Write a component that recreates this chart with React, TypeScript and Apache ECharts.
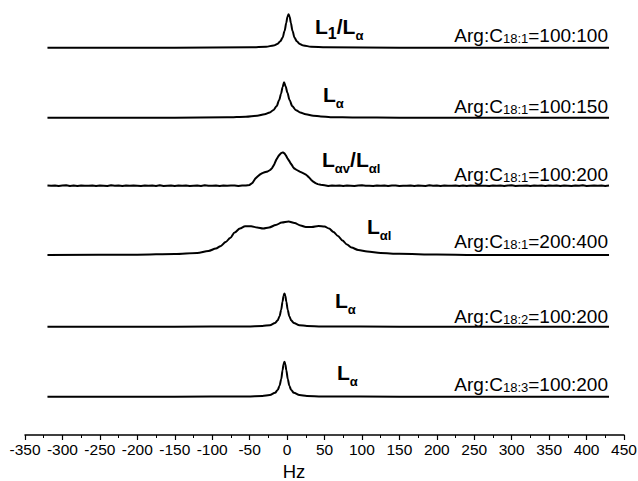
import React, { useEffect, useRef } from "react";
import * as echarts from "echarts";

// x axis
const xMin = -350;
const xMax = 450;
const xInterval = 50;

// vertical offset of each spectrum baseline (stacked plot units)
const baselineOffsets = [387.3, 317.3, 249.3, 180, 108.3, 38.3];

// spectra: [Hz, intensity above own baseline]
const spectrum1: [number, number][] = [[-320,0],[-150,0],[-48,0.4],[-28,1],[-18,2.2],[-13,3.6],[-9,6.4],[-6,10],[-3.3,16.7],[-1,25],[0.5,31],[2,33.5],[3.5,31],[5,25],[7.3,16.7],[10,10],[13,6.4],[17,3.6],[22,2.2],[32,1],[52,0.4],[150,0],[430,0]];
const spectrum2: [number, number][] = [[-320,0],[-150,0],[-80,0.4],[-55,1],[-40,2],[-30,3.5],[-23,5.3],[-18,7.8],[-14,11.5],[-10.5,17.7],[-8,24],[-6,30.5],[-4,35.4],[-2,31.5],[0.5,25],[3.3,17.7],[7,11.5],[12,7.5],[17.5,5.3],[25,3.5],[35,2],[45,1.2],[58,0.5],[90,0.2],[150,0],[430,0]];
// spectrum 3: noisy baseline sampled every 5 Hz, plus the central band
const spectrum3NoiseStep = 5;
const spectrum3NoiseLeftStart = -320;
const spectrum3NoiseLeft = [0.2,-0.1,0.3,-0.3,0.1,0.35,-0.2,0.1,-0.35,0.25,0.0,-0.15,0.3,-0.3,0.2,0.05,-0.25,0.35,-0.05,0.15,-0.3,0.25,-0.15,0.2,0.0,-0.35,0.3,-0.05,0.15,-0.25,0.35,-0.2,0.05,0.25,-0.3,0.15,-0.15,0.3,-0.2,0.0,0.2,-0.25,0.35,-0.15,0.05,0.25,-0.3,0.2,-0.05,0.15,0.3,-0.2,0.25,0.3];
const spectrum3Band: [number, number][] = [[-50,0.8],[-46,3],[-42.6,7],[-39,9.5],[-36,11.3],[-33,12.6],[-30,13.4],[-26,14.2],[-22.6,15.7],[-20,17.6],[-17,21.5],[-14.6,25.7],[-12,29],[-10,31],[-8,32.6],[-5.6,33.3],[-3.5,32.3],[-1.5,30.2],[0.5,27.5],[3,24.6],[5,22],[6.4,20.7],[8,18.6],[10,17],[13,15.7],[17,14],[20,13],[22,12.3],[24.5,11.4],[27,10],[29,8.5],[32,6],[35,4],[38,2.6],[41,1.6],[45,0.9],[50,0.4]];
const spectrum3NoiseRightStart = 55;
const spectrum3NoiseRight = [-0.2,0.25,-0.05,0.3,-0.25,0.15,0.0,-0.3,0.2,0.35,-0.15,0.05,-0.25,0.3,-0.05,0.2,-0.35,0.15,0.25,-0.2,0.05,-0.15,0.3,-0.25,0.2,0.0,-0.2,0.35,-0.05,0.15,-0.3,0.25,-0.15,0.05,0.3,-0.2,0.15,-0.35,0.2,0.0,0.25,-0.15,0.05,-0.25,0.3,-0.05,0.2,-0.2,0.15,0.35,-0.25,0.05,-0.15,0.25,-0.3,0.2,0.0,0.15,-0.2,0.3,-0.05,0.25,-0.25,0.15,0.05,-0.3,0.2,-0.15,0.35,-0.2,0.05,0.25,-0.05,0.15,-0.25,0.2];
const spectrum4: [number, number][] = [[-320,0],[-200,0.3],[-150,1],[-120,2],[-105,4],[-95,6.5],[-89,8.8],[-82,13],[-76,17],[-70,22.5],[-63,26.5],[-56,28.8],[-48,28.8],[-40,27.5],[-32,26.5],[-24,27.5],[-15,30],[-7,32.5],[2,33.5],[10,32],[18,29.5],[25,28],[33,28],[42,29],[50,28.5],[56,26.5],[62,23],[68,19],[74,14.5],[80,10.5],[86,7.5],[95,5],[107,3.5],[125,2],[150,1.2],[200,0.4],[250,0],[430,0]];
const spectrum5: [number, number][] = [[-320,0],[-150,0],[-53,0.3],[-33,0.7],[-23,1.5],[-16,3.7],[-12.5,6.4],[-10,10.5],[-7.9,16.7],[-6,25.2],[-4.7,31],[-3.5,33.3],[-2.3,31],[-1,25.2],[0.9,16.7],[3,10.5],[5.5,6.4],[9,3.7],[16.5,1.5],[26.5,0.7],[46.5,0.3],[150,0],[430,0]];
const spectrum6: [number, number][] = [[-320,0],[-150,0],[-53,0.3],[-33,0.7],[-23,1.6],[-16,3.9],[-12.5,6.7],[-10,11],[-7.8,17.5],[-6,26.5],[-4.7,32.5],[-3.5,35],[-2.3,32.5],[-1,26.5],[1,17.5],[3,11],[5.5,6.7],[9,3.9],[16.5,1.6],[26.5,0.7],[46.5,0.3],[150,0],[430,0]];

// labels
const phaseLabels = [
  "{b|L}{d|1}{b|/L}{s|α}",
  "{b|L}{s|α}",
  "{b|L}{s|αv}{b|/L}{s|αl}",
  "{b|L}{s|αl}",
  "{b|L}{s|α}",
  "{b|L}{s|α}",
];
const lipidLabels = ["18:1", "18:1", "18:1", "18:1", "18:2", "18:3"];
const ratioLabels = ["100:100", "100:150", "100:200", "200:400", "100:200", "100:200"];
const axisName = "Hz";

const FONT = "'Liberation Sans', Arial, Helvetica, sans-serif";

export default function App() {
  const ref = useRef<HTMLDivElement>(null);
  useEffect(() => {
    if (!ref.current) return;
    const chart = echarts.init(ref.current, undefined, { renderer: "svg" });

    const spectrum3: [number, number][] = [
      ...spectrum3NoiseLeft.map((v, i) => [spectrum3NoiseLeftStart + i * spectrum3NoiseStep, v] as [number, number]),
      ...spectrum3Band,
      ...spectrum3NoiseRight.map((v, i) => [spectrum3NoiseRightStart + i * spectrum3NoiseStep, v] as [number, number]),
    ];
    const spectra = [spectrum1, spectrum2, spectrum3, spectrum4, spectrum5, spectrum6];

    const series = spectra.map((sp, k) => ({
      type: "line",
      data: sp.map(([x, h]) => [x, baselineOffsets[k] + h]),
      showSymbol: false,
      symbol: "none",
      smooth: k === 2 ? false : 0.3,
      smoothMonotone: "x",
      lineStyle: { color: "#000", width: 2, join: "round" },
      silent: true,
    }));

    // label layout (pixels)
    const phasePos = [[315, 32], [323, 100], [322, 165], [367, 232], [335, 306.7], [337, 378]];
    const ratioBaselines = [40.7, 111.7, 180, 246.7, 321.7, 390];
    const ratioRight = 608;

    const phaseRich = {
      b: { fontSize: 21, fontWeight: "bold", fontFamily: FONT, fill: "#000", lineHeight: 24, padding: [0, 0, 5, 0], verticalAlign: "bottom" },
      s: { fontSize: 13, fontWeight: "bold", fontFamily: FONT, fill: "#000", lineHeight: 16, verticalAlign: "bottom" },
      d: { fontSize: 16, fontWeight: "bold", fontFamily: FONT, fill: "#000", lineHeight: 16, verticalAlign: "bottom" },
    };
    const ratioRich = {
      m: { fontSize: 19, fontFamily: FONT, fill: "#000", lineHeight: 22, verticalAlign: "bottom" },
      n: { fontSize: 13, fontFamily: FONT, fill: "#000", lineHeight: 18, verticalAlign: "bottom" },
    };

    const graphic: any[] = [];
    phaseLabels.forEach((t, i) => {
      graphic.push({
        type: "text",
        x: phasePos[i][0],
        y: phasePos[i][1] + 9.6,
        style: { text: t, rich: phaseRich, align: "left", verticalAlign: "bottom", fill: "#000" },
        silent: true,
      });
    });
    ratioLabels.forEach((r, i) => {
      graphic.push({
        type: "text",
        x: ratioRight,
        y: ratioBaselines[i] + 4.2,
        style: { text: `{m|Arg:C}{n|${lipidLabels[i]}}{m|=${r}}`, rich: ratioRich, align: "right", verticalAlign: "bottom", fill: "#000" },
        silent: true,
      });
    });
    graphic.push({
      type: "text",
      x: 294,
      y: 471.5,
      style: { text: axisName, font: `18.5px ${FONT}`, fill: "#000", align: "center", verticalAlign: "middle" },
      silent: true,
    });

    chart.setOption({
      animation: false,
      backgroundColor: "#fff",
      grid: { left: 25, right: 14, top: 0, bottom: 46, containLabel: false, outerBoundsMode: "none" },
      xAxis: {
        type: "value",
        min: xMin,
        max: xMax,
        interval: xInterval,
        axisLine: { show: true, onZero: false, lineStyle: { color: "#000", width: 1.5 } },
        axisTick: { show: true, inside: false, length: 5, lineStyle: { color: "#000", width: 1.2 } },
        minorTick: { show: true, splitNumber: 2, length: 3, lineStyle: { color: "#000", width: 1 } },
        axisLabel: { fontSize: 15.5, fontFamily: FONT, color: "#000", margin: 6, showMinLabel: true, showMaxLabel: true },
        splitLine: { show: false },
        minorSplitLine: { show: false },
      },
      yAxis: { type: "value", min: 0, max: 435, show: false, splitLine: { show: false } },
      series,
      graphic,
    } as any);

    return () => chart.dispose();
  }, []);
  return <div ref={ref} style={{ position: "absolute", left: 0, top: 0, width: 638, height: 481 }} />;
}
